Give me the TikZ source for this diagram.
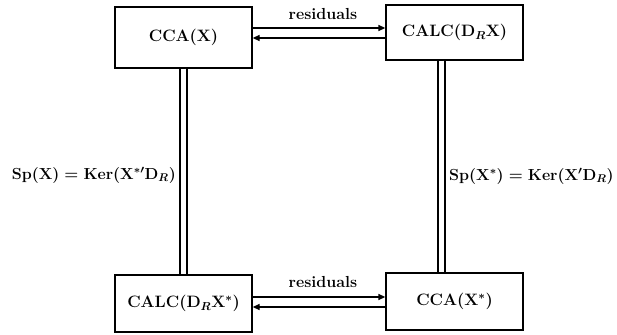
\RequirePackage{fix-cm}
\documentclass[tikz,border=0pt]{standalone}
\usetikzlibrary{arrows.meta}
\begin{document}
\begin{tikzpicture}[x=1pt,y=-1pt,
  box/.style={draw, line width=1.3pt, minimum width=137pt, inner sep=0pt,
    font=\fontsize{16.5}{19}\selectfont\bfseries\boldmath},
  lbl/.style={inner sep=0pt, font=\fontsize{16}{19}\selectfont\bfseries\boldmath},
  arr/.style={line width=1.3pt, -{Triangle[length=7pt,width=6pt]}},
  dbl/.style={double, line width=1.5pt, double distance=5.5pt}]
\useasboundingbox (0,0) rectangle (617,334);
\node[box, minimum height=61pt] (tl) at (183.5,37.5) {CCA($\mathbf{X}$)};
\node[box, minimum height=55pt] (tr) at (454.5,32.5) {CALC($\mathbf{D}_R\mathbf{X}$)};
\node[box, minimum height=57pt] (bl) at (183.5,303.5) {CALC($\mathbf{D}_R\mathbf{X}^{*}$)};
\node[box, minimum height=57pt] (br) at (454.5,301.5) {CCA($\mathbf{X}^{*}$)};
\draw[arr] (tl.east |- {(0,28)}) -- (tr.west |- {(0,28)});
\draw[arr] (tr.west |- {(0,38)}) -- (tl.east |- {(0,38)});
\draw[arr] (bl.east |- {(0,297)}) -- (br.west |- {(0,297)});
\draw[arr] (br.west |- {(0,307)}) -- (bl.east |- {(0,307)});
\node[lbl, anchor=base] (r1) at (323,20) {residuals};
\node[lbl, anchor=base] (r2) at (323,287) {residuals};
\draw[dbl] (tl.south) -- (bl.north);
\draw[dbl] ([xshift=-13pt]tr.south) -- ([xshift=-13pt]br.north);
\node[lbl, anchor=base east] (ll) at (176,179) {$\mathbf{Sp}(\mathbf{X}) = \mathbf{Ker}(\mathbf{X}^{*\prime}\mathbf{D}_R)$};
\node[lbl, anchor=base west] (rl) at (449,180) {$\mathbf{Sp}(\mathbf{X}^{*}) = \mathbf{Ker}(\mathbf{X}'\mathbf{D}_R)$};
\end{tikzpicture}
\end{document}
